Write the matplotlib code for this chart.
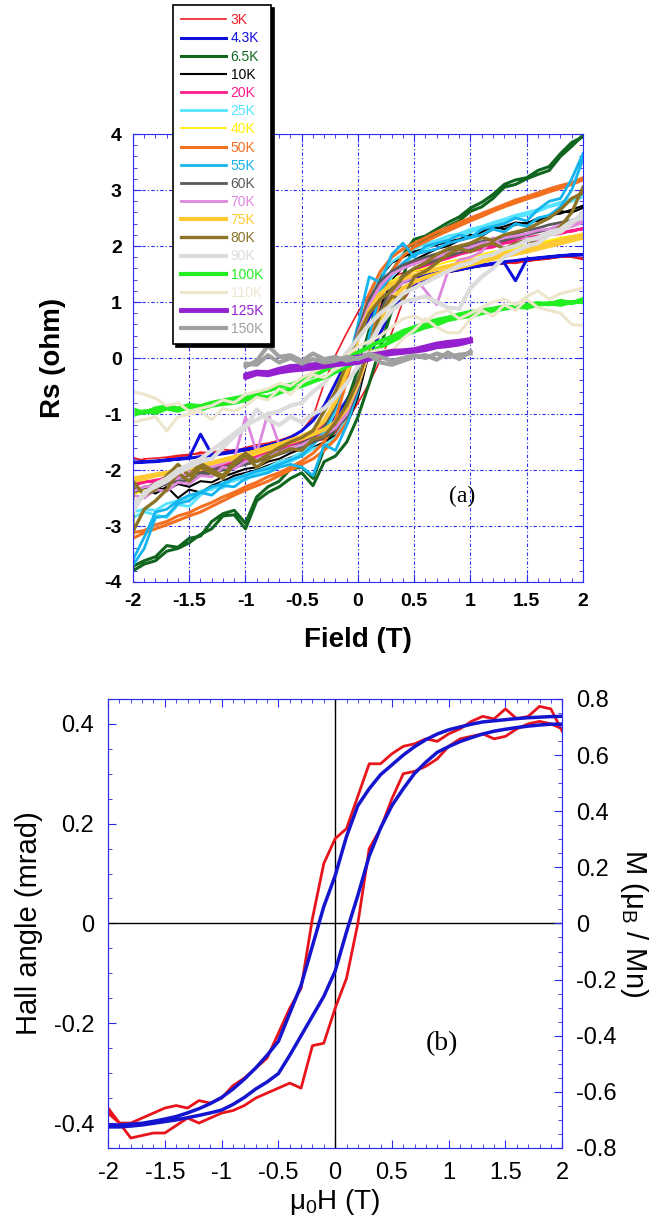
import matplotlib.pyplot as plt
from matplotlib.ticker import MultipleLocator

plt.rcParams['font.family'] = ['Liberation Sans', 'DejaVu Sans']
plt.rcParams['mathtext.fontset'] = 'custom'
plt.rcParams['mathtext.rm'] = 'Liberation Sans'
plt.rcParams['mathtext.default'] = 'regular'

# field grid (T) shared by the loops; 125K / 150K only swept +-1 T
field = [-2.0, -1.9, -1.8, -1.7, -1.6, -1.5, -1.4, -1.3, -1.2, -1.1, -1.0,
         -0.9, -0.8, -0.7, -0.6, -0.5, -0.4, -0.3, -0.2, -0.1, 0.0,
         0.1, 0.2, 0.3, 0.4, 0.5, 0.6, 0.7, 0.8, 0.9, 1.0,
         1.1, 1.2, 1.3, 1.4, 1.5, 1.6, 1.7, 1.8, 1.9, 2.0]
field_short = [-1.0, -0.9, -0.8, -0.7, -0.6, -0.5, -0.4, -0.3, -0.2, -0.1, 0.0,
               0.1, 0.2, 0.3, 0.4, 0.5, 0.6, 0.7, 0.8, 0.9, 1.0]

# (a) Rs loops: "down" = sweep from +2 to -2, "up" = sweep from -2 to +2 (both listed along field)
down_3k = [-1.78, -1.83, -1.86, -1.80, -1.76, -1.74, -1.68, -1.70, -1.63, -1.66, -1.60, -1.55, -1.52, -1.47, -1.40, -1.30, -1.05, -0.45, 0.05, 0.45, 0.82, 1.15, 1.35, 1.45, 1.52, 1.55, 1.58, 1.60, 1.62, 1.63, 1.65, 1.66, 1.69, 1.68, 1.72, 1.73, 1.76, 1.78, 1.80, 1.82, 1.78]
up_3k = [-1.88, -1.80, -1.79, -1.77, -1.74, -1.72, -1.71, -1.67, -1.68, -1.64, -1.66, -1.62, -1.61, -1.59, -1.57, -1.54, -1.50, -1.45, -1.33, -1.13, -0.80, -0.45, -0.03, 0.45, 1.02, 1.32, 1.41, 1.48, 1.53, 1.56, 1.61, 1.64, 1.66, 1.70, 1.69, 1.73, 1.75, 1.77, 1.81, 1.80, 1.76]
down_4k = [-1.86, -1.85, -1.84, -1.82, -1.81, -1.79, -1.76, -1.74, -1.71, -1.68, -1.64, -1.60, -1.56, -1.50, -1.42, -1.30, -1.12, -0.85, -0.45, -0.05, 0.35, 0.72, 1.02, 1.22, 1.35, 1.43, 1.48, 1.52, 1.55, 1.58, 1.62, 1.65, 1.68, 1.70, 1.38, 1.76, 1.78, 1.80, 1.82, 1.84, 1.85]
up_4k = [-1.87, -1.86, -1.85, -1.83, -1.80, -1.78, -1.36, -1.72, -1.70, -1.66, -1.63, -1.60, -1.56, -1.53, -1.49, -1.44, -1.37, -1.25, -1.05, -0.75, -0.38, 0.05, 0.45, 0.84, 1.10, 1.28, 1.40, 1.48, 1.54, 1.58, 1.62, 1.66, 1.69, 1.72, 1.74, 1.77, 1.79, 1.81, 1.83, 1.84, 1.84]
down_6k = [-3.72, -3.62, -3.55, -3.35, -3.38, -3.22, -3.18, -2.92, -2.78, -2.72, -2.95, -2.48, -2.30, -2.20, -1.98, -1.95, -2.15, -1.62, -1.25, -0.80, -0.20, 0.50, 1.10, 1.55, 1.85, 2.12, 2.18, 2.30, 2.42, 2.52, 2.68, 2.78, 2.92, 3.10, 3.18, 3.22, 3.35, 3.42, 3.65, 3.85, 3.95]
up_6k = [-3.80, -3.68, -3.62, -3.45, -3.40, -3.30, -3.15, -3.05, -2.82, -2.80, -3.05, -2.55, -2.40, -2.30, -2.15, -2.05, -2.28, -1.85, -1.75, -1.50, -1.05, -0.45, 0.20, 0.85, 1.45, 2.05, 2.10, 2.22, 2.35, 2.45, 2.62, 2.70, 2.85, 3.05, 3.10, 3.20, 3.28, 3.35, 3.60, 3.78, 3.98]
down_10k = [-2.32, -2.38, -2.30, -2.36, -2.25, -2.30, -2.20, -2.22, -2.12, -2.05, -1.98, -1.95, -1.85, -1.80, -1.70, -1.62, -1.50, -1.30, -0.95, -0.30, 0.50, 1.00, 1.45, 1.70, 1.80, 1.90, 1.96, 2.02, 2.08, 2.12, 2.20, 2.18, 2.30, 2.35, 2.42, 2.40, 2.50, 2.52, 2.62, 2.60, 2.68]
up_10k = [-2.40, -2.35, -2.42, -2.30, -2.50, -2.35, -2.40, -2.28, -2.20, -2.10, -2.05, -2.00, -1.92, -1.85, -1.78, -1.70, -1.60, -1.50, -1.38, -1.20, -0.70, 0.10, 0.90, 1.40, 1.62, 1.75, 1.85, 1.95, 2.00, 2.10, 2.15, 2.25, 2.35, 2.30, 2.38, 2.42, 2.45, 2.55, 2.58, 2.65, 2.72]
down_20k = [-2.28, -2.22, -2.18, -2.15, -2.10, -2.08, -2.02, -1.95, -1.92, -1.85, -1.82, -1.75, -1.68, -1.62, -1.55, -1.48, -1.35, -1.18, -0.85, -0.25, 0.45, 0.95, 1.30, 1.50, 1.62, 1.70, 1.75, 1.80, 1.85, 1.90, 1.95, 1.98, 2.03, 2.08, 2.10, 2.15, 2.18, 2.22, 2.25, 2.26, 2.32]
up_20k = [-2.25, -2.20, -2.22, -2.12, -2.15, -2.05, -2.00, -1.98, -1.90, -1.88, -1.80, -1.78, -1.70, -1.65, -1.58, -1.50, -1.42, -1.32, -1.18, -0.95, -0.50, 0.15, 0.80, 1.25, 1.45, 1.58, 1.65, 1.72, 1.78, 1.85, 1.90, 1.95, 1.98, 2.05, 2.08, 2.12, 2.15, 2.20, 2.22, 2.28, 2.30]
down_25k = [-2.75, -2.70, -2.72, -2.60, -2.55, -2.50, -2.38, -2.35, -2.22, -2.20, -2.08, -2.02, -1.95, -1.85, -1.80, -1.68, -1.55, -1.35, -0.95, -0.30, 0.45, 1.10, 1.50, 1.72, 1.85, 1.95, 2.05, 2.10, 2.18, 2.22, 2.30, 2.35, 2.42, 2.48, 2.55, 2.60, 2.65, 2.72, 2.78, 2.85, 2.92]
up_25k = [-2.85, -2.75, -2.80, -2.85, -2.62, -2.65, -2.45, -2.30, -2.32, -2.15, -2.18, -2.05, -2.02, -1.90, -1.85, -1.75, -1.62, -1.55, -1.42, -1.10, -0.45, 0.35, 1.05, 1.45, 1.65, 1.85, 1.95, 2.05, 2.12, 2.18, 2.25, 2.32, 2.38, 2.45, 2.52, 2.55, 2.62, 2.70, 2.75, 2.80, 2.88]
down_40k = [-2.20, -2.18, -2.10, -2.05, -2.00, -1.95, -1.90, -1.85, -1.80, -1.75, -1.70, -1.65, -1.58, -1.52, -1.46, -1.40, -1.30, -1.10, -0.75, -0.20, 0.40, 0.90, 1.20, 1.38, 1.48, 1.55, 1.60, 1.66, 1.72, 1.76, 1.80, 1.85, 1.90, 1.93, 1.98, 2.02, 2.06, 2.10, 2.15, 2.18, 2.15]
up_40k = [-2.45, -2.35, -2.30, -2.20, -2.15, -2.08, -2.00, -1.95, -1.88, -1.82, -1.78, -1.72, -1.65, -1.60, -1.52, -1.45, -1.38, -1.28, -1.15, -0.92, -0.45, 0.20, 0.80, 1.15, 1.35, 1.45, 1.52, 1.58, 1.64, 1.70, 1.75, 1.80, 1.85, 1.90, 1.95, 1.98, 2.03, 2.08, 2.12, 2.18, 2.22]
down_50k = [-3.12, -3.08, -2.98, -2.92, -2.82, -2.76, -2.66, -2.58, -2.48, -2.40, -2.30, -2.22, -2.12, -2.05, -1.95, -1.84, -1.70, -1.50, -1.10, -0.40, 0.45, 1.15, 1.55, 1.80, 1.95, 2.05, 2.15, 2.25, 2.33, 2.42, 2.50, 2.58, 2.66, 2.74, 2.82, 2.88, 2.95, 3.02, 3.08, 3.13, 3.22]
up_50k = [-3.22, -3.12, -3.05, -2.98, -2.90, -2.82, -2.75, -2.65, -2.55, -2.45, -2.36, -2.28, -2.20, -2.10, -2.00, -1.90, -1.80, -1.65, -1.45, -1.15, -0.55, 0.30, 1.05, 1.55, 1.82, 1.98, 2.08, 2.18, 2.27, 2.36, 2.45, 2.53, 2.62, 2.70, 2.77, 2.84, 2.90, 2.97, 3.03, 3.10, 3.18]
down_55k = [-3.60, -3.20, -2.75, -2.70, -2.55, -2.45, -2.40, -2.30, -2.25, -2.15, -2.10, -2.02, -1.98, -1.90, -1.82, -1.75, -1.55, -1.30, -0.90, -0.20, 0.60, 1.45, 1.35, 1.85, 2.05, 1.80, 2.00, 2.05, 2.10, 2.20, 2.15, 2.30, 2.35, 2.40, 2.50, 2.45, 2.65, 2.80, 2.85, 3.20, 3.65]
up_55k = [-3.70, -3.40, -2.85, -2.82, -2.60, -2.55, -2.40, -2.45, -2.28, -2.30, -2.15, -2.10, -2.05, -1.95, -1.90, -1.95, -2.10, -1.55, -1.65, -1.20, -0.60, 0.40, 1.20, 1.50, 1.70, 1.85, 1.90, 1.95, 2.05, 2.10, 2.15, 2.20, 2.30, 2.25, 2.40, 2.35, 2.50, 2.55, 2.70, 3.00, 3.55]
down_60k = [-2.35, -2.32, -2.25, -2.20, -2.15, -2.10, -2.05, -2.00, -1.95, -1.90, -1.85, -1.80, -1.72, -1.66, -1.60, -1.52, -1.42, -1.22, -0.85, -0.20, 0.50, 1.05, 1.38, 1.55, 1.66, 1.74, 1.80, 1.86, 1.92, 1.98, 2.02, 2.08, 2.12, 2.18, 2.22, 2.28, 2.32, 2.38, 2.42, 2.46, 2.52]
up_60k = [-2.40, -2.30, -2.32, -2.25, -2.20, -2.18, -2.10, -2.05, -2.00, -1.95, -1.90, -1.85, -1.78, -1.72, -1.65, -1.60, -1.50, -1.42, -1.28, -1.05, -0.55, 0.15, 0.85, 1.25, 1.48, 1.60, 1.68, 1.75, 1.82, 1.88, 1.94, 2.00, 2.05, 2.10, 2.15, 2.20, 2.25, 2.30, 2.35, 2.42, 2.48]
down_70k = [-2.38, -2.30, -2.28, -2.20, -2.15, -2.05, -1.85, -1.95, -1.88, -1.80, -1.05, -1.70, -0.98, -1.55, -1.48, -1.40, -1.30, -1.12, -0.78, -0.20, 0.45, 0.95, 1.30, 1.50, 1.60, 1.68, 1.75, 1.80, 1.88, 1.92, 1.98, 2.05, 2.08, 2.15, 2.18, 2.22, 2.28, 2.30, 2.38, 2.40, 2.45]
up_70k = [-2.45, -2.50, -2.35, -2.38, -2.22, -2.25, -2.10, -2.12, -1.95, -1.98, -1.85, -1.80, -1.72, -1.68, -1.60, -1.55, -1.45, -1.38, -1.25, -1.00, -0.50, 0.10, 0.75, 1.15, 1.35, 1.45, 1.20, 0.95, 1.55, 1.75, 1.80, 1.90, 2.15, 1.95, 2.05, 2.15, 2.10, 2.20, 2.30, 2.35, 2.42]
down_75k = [-2.20, -2.15, -2.10, -2.06, -2.02, -1.97, -1.92, -1.87, -1.82, -1.77, -1.72, -1.66, -1.60, -1.54, -1.47, -1.40, -1.30, -1.12, -0.78, -0.25, 0.35, 0.85, 1.15, 1.32, 1.42, 1.48, 1.54, 1.59, 1.64, 1.68, 1.73, 1.77, 1.82, 1.86, 1.90, 1.95, 2.00, 2.05, 2.10, 2.15, 2.20]
up_75k = [-2.15, -2.12, -2.08, -2.05, -2.00, -1.96, -1.92, -1.88, -1.83, -1.78, -1.74, -1.68, -1.62, -1.56, -1.50, -1.44, -1.36, -1.28, -1.15, -0.90, -0.45, 0.15, 0.70, 1.05, 1.25, 1.36, 1.44, 1.50, 1.56, 1.62, 1.67, 1.72, 1.77, 1.82, 1.86, 1.90, 1.95, 2.00, 2.05, 2.10, 2.15]
down_80k = [-2.20, -2.45, -2.35, -2.10, -1.90, -2.10, -1.88, -2.00, -2.10, -1.85, -1.70, -1.85, -1.72, -1.60, -1.50, -1.42, -1.30, -0.95, -0.60, -0.10, 0.40, 0.80, 1.05, 1.20, 1.45, 1.60, 1.70, 1.85, 1.95, 2.00, 2.05, 2.15, 2.10, 2.20, 2.25, 2.30, 2.40, 2.50, 2.65, 2.85, 2.95]
up_80k = [-3.10, -2.70, -2.55, -2.35, -2.05, -2.20, -1.95, -2.05, -2.15, -1.90, -1.75, -1.95, -1.80, -1.70, -1.62, -1.65, -1.45, -1.40, -1.15, -0.85, -0.40, 0.20, 0.80, 1.10, 1.05, 1.45, 1.55, 1.70, 1.85, 1.95, 1.90, 2.00, 2.05, 1.95, 2.05, 2.10, 2.05, 2.20, 2.35, 2.60, 3.05]
down_90k = [-2.60, -2.45, -2.25, -2.15, -2.00, -1.90, -1.80, -1.65, -1.50, -1.35, -1.20, -1.10, -1.00, -0.95, -0.85, -0.80, -0.60, -0.45, -0.20, 0.10, 0.35, 0.60, 0.80, 0.95, 1.15, 1.25, 1.35, 1.45, 1.55, 1.65, 1.70, 1.80, 1.85, 1.95, 2.00, 2.10, 2.15, 2.25, 2.30, 2.45, 2.50]
up_90k = [-2.75, -2.40, -2.30, -2.20, -2.05, -1.95, -1.85, -1.80, -1.60, -1.40, -1.25, -0.92, -1.10, -1.20, -1.05, -1.15, -1.00, -0.90, -0.70, -0.45, -0.15, 0.25, 0.60, 0.85, 1.00, 1.05, 1.10, 1.00, 0.90, 0.88, 1.25, 1.45, 1.60, 1.80, 1.90, 2.00, 2.05, 2.20, 2.25, 2.40, 2.60]
down_100k = [-0.92, -0.98, -0.90, -0.86, -0.90, -0.84, -0.86, -0.80, -0.76, -0.72, -0.68, -0.62, -0.58, -0.52, -0.48, -0.40, -0.32, -0.22, -0.12, 0.00, 0.10, 0.20, 0.30, 0.38, 0.48, 0.55, 0.62, 0.68, 0.72, 0.78, 0.82, 0.85, 0.88, 0.92, 0.90, 0.95, 0.98, 0.96, 1.02, 0.98, 1.05]
up_100k = [-1.02, -0.95, -0.98, -0.90, -0.94, -0.88, -0.92, -0.85, -0.82, -0.80, -0.75, -0.68, -0.70, -0.62, -0.55, -0.50, -0.42, -0.35, -0.25, -0.15, -0.05, 0.08, 0.20, 0.30, 0.40, 0.48, 0.55, 0.60, 0.68, 0.72, 0.75, 0.80, 0.85, 0.88, 0.92, 0.90, 0.95, 0.98, 0.95, 1.00, 1.00]
down_110k = [-0.60, -0.65, -0.72, -0.85, -0.80, -0.95, -0.90, -0.85, -0.75, -0.80, -0.65, -0.60, -0.55, -0.45, -0.50, -0.35, -0.25, -0.15, -0.05, 0.05, 0.20, 0.30, 0.40, 0.55, 0.70, 0.75, 0.65, 0.80, 0.85, 0.70, 0.80, 0.90, 1.00, 1.05, 0.95, 1.10, 1.20, 1.05, 1.15, 1.20, 1.25]
up_110k = [-1.15, -1.10, -1.05, -1.30, -1.05, -1.00, -0.95, -1.10, -0.90, -0.95, -0.85, -0.70, -0.75, -0.55, -0.65, -0.45, -0.30, -0.35, -0.20, -0.10, 0.00, 0.10, 0.15, 0.12, 0.35, 0.50, 0.70, 0.55, 0.45, 0.45, 0.70, 0.85, 0.75, 0.95, 0.85, 1.05, 0.90, 0.85, 0.80, 0.60, 0.58]
down_125k = [-0.30, -0.25, -0.26, -0.20, -0.15, -0.14, -0.12, -0.10, -0.08, -0.02, 0.02, 0.05, 0.08, 0.12, 0.13, 0.15, 0.20, 0.25, 0.28, 0.30, 0.33]
up_125k = [-0.35, -0.28, -0.30, -0.25, -0.22, -0.20, -0.18, -0.15, -0.12, -0.10, -0.08, -0.02, 0.05, 0.08, 0.10, 0.12, 0.15, 0.20, 0.22, 0.25, 0.30]
down_150k = [-0.10, -0.12, 0.05, -0.08, 0.00, -0.10, -0.02, -0.08, -0.05, 0.02, -0.02, 0.08, 0.02, -0.05, 0.00, 0.05, 0.00, 0.08, 0.02, 0.06, 0.08]
up_150k = [-0.15, -0.05, 0.22, 0.02, 0.05, -0.05, 0.08, -0.02, 0.02, -0.05, 0.00, 0.05, -0.08, -0.12, -0.05, 0.02, 0.05, -0.03, 0.10, -0.02, 0.12]

temps = ['3K', '4.3K', '6.5K', '10K', '20K', '25K', '40K', '50K', '55K',
         '60K', '70K', '75K', '80K', '90K', '100K', '110K', '125K', '150K']
colors = ['#ee1c24', '#1010dd', '#10661e', '#000000', '#ff1a8c', '#55e4ff',
          '#ffee00', '#f37021', '#14b4ee', '#5a5a5a', '#dd88dd', '#ffc933',
          '#8c7325', '#dcdcdc', '#22ee22', '#eee6cc', '#9420d0', '#a0a0a0']
widths = [1.2, 2.2, 2.2, 1.5, 2.0, 2.0, 1.3, 2.2, 2.0, 2.0, 2.0, 3.0, 2.4,
          3.0, 3.0, 2.2, 3.5, 3.0]
loops = [(field, down_3k, up_3k), (field, down_4k, up_4k), (field, down_6k, up_6k),
         (field, down_10k, up_10k), (field, down_20k, up_20k), (field, down_25k, up_25k),
         (field, down_40k, up_40k), (field, down_50k, up_50k), (field, down_55k, up_55k),
         (field, down_60k, up_60k), (field, down_70k, up_70k), (field, down_75k, up_75k),
         (field, down_80k, up_80k), (field, down_90k, up_90k), (field, down_100k, up_100k),
         (field, down_110k, up_110k), (field_short, down_125k, up_125k),
         (field_short, down_150k, up_150k)]

# (b) Hall angle (mrad, left axis) and magnetization (muB/Mn, right axis)
hall_down = [-0.38, -0.40, -0.40, -0.39, -0.38, -0.37, -0.365, -0.37, -0.355, -0.36, -0.35, -0.325, -0.31, -0.29, -0.27, -0.22, -0.17, -0.13, 0.01, 0.12, 0.17, 0.19, 0.255, 0.32, 0.32, 0.34, 0.355, 0.36, 0.37, 0.365, 0.38, 0.39, 0.405, 0.415, 0.41, 0.43, 0.41, 0.415, 0.435, 0.43, 0.385]
hall_up = [-0.37, -0.40, -0.43, -0.425, -0.42, -0.42, -0.405, -0.39, -0.40, -0.39, -0.38, -0.375, -0.365, -0.35, -0.34, -0.33, -0.32, -0.33, -0.245, -0.24, -0.17, -0.11, 0.00, 0.15, 0.19, 0.25, 0.30, 0.305, 0.315, 0.33, 0.355, 0.37, 0.375, 0.38, 0.37, 0.375, 0.39, 0.40, 0.405, 0.40, 0.39]
m_down = [-0.720, -0.718, -0.715, -0.712, -0.705, -0.697, -0.688, -0.675, -0.660, -0.642, -0.620, -0.590, -0.555, -0.515, -0.470, -0.420, -0.32, -0.22, -0.08, 0.06, 0.17, 0.31, 0.42, 0.48, 0.53, 0.565, 0.60, 0.63, 0.655, 0.675, 0.69, 0.70, 0.71, 0.718, 0.722, 0.726, 0.73, 0.733, 0.735, 0.737, 0.738]
m_up = [-0.725, -0.725, -0.722, -0.718, -0.712, -0.706, -0.700, -0.692, -0.684, -0.675, -0.665, -0.645, -0.620, -0.590, -0.565, -0.535, -0.47, -0.40, -0.33, -0.26, -0.17, -0.03, 0.10, 0.24, 0.34, 0.42, 0.48, 0.535, 0.575, 0.61, 0.63, 0.648, 0.662, 0.675, 0.685, 0.692, 0.698, 0.703, 0.707, 0.71, 0.71]

x_ticks = [-2, -1.5, -1, -0.5, 0, 0.5, 1, 1.5, 2]
x_labels = ['-2', '-1.5', '-1', '-0.5', '0', '0.5', '1', '1.5', '2']
rs_ticks = [-4, -3, -2, -1, 0, 1, 2, 3, 4]
rs_labels = ['-4', '-3', '-2', '-1', '0', '1', '2', '3', '4']
hall_ticks = [-0.4, -0.2, 0, 0.2, 0.4]
hall_labels = ['-0.4', '-0.2', '0', '0.2', '0.4']
m_ticks = [-0.8, -0.6, -0.4, -0.2, 0, 0.2, 0.4, 0.6, 0.8]
m_labels = ['-0.8', '-0.6', '-0.4', '-0.2', '0', '0.2', '0.4', '0.6', '0.8']

axis_blue = '#2a2af0'

fig = plt.figure(figsize=(6.63, 12.32), dpi=100)

# ---------------- panel (a) ----------------
ax = fig.add_axes([0.2006, 0.5276, 0.6787, 0.3636])
handles = []
for (fx, down, up), c, lw, t in zip(loops, colors, widths, temps):
    xs = list(fx[::-1]) + list(fx)
    ys = list(down[::-1]) + list(up)
    line, = ax.plot(xs, ys, color=c, lw=lw, label=t)
    handles.append(line)

ax.set_xlim(-2, 2)
ax.set_ylim(-4, 4)
ax.set_xticks(x_ticks, x_labels)
ax.set_yticks(rs_ticks, rs_labels)
ax.xaxis.set_minor_locator(MultipleLocator(0.1))
ax.yaxis.set_minor_locator(MultipleLocator(0.2))
ax.tick_params(which='both', direction='in', top=True, right=True, color=axis_blue,
               labelsize=14, pad=8)
ax.tick_params(which='major', length=6)
ax.tick_params(which='minor', length=3)
for lbl in ax.get_xticklabels() + ax.get_yticklabels():
    lbl.set_fontweight('bold')
for s in ax.spines.values():
    s.set_color(axis_blue)
ax.grid(True, which='major', color=axis_blue, linestyle=(0, (3, 2, 1, 2)), linewidth=0.8)
ax.set_xlabel('Field (T)', fontsize=20, fontweight='bold', labelpad=12)
ax.set_ylabel('Rs (ohm)', fontsize=20, fontweight='bold')
ax.yaxis.set_label_coords(-0.15, 0.5)
ax.text(0.93, -2.48, '(a)', fontsize=17, family='Liberation Serif', ha='center', va='center')

leg = ax.legend(handles=handles, loc='upper left', bbox_to_anchor=(173 / 663, 1 - 5 / 1232),
                bbox_transform=fig.transFigure, borderaxespad=0, fontsize=10,
                labelcolor='linecolor', handlelength=3.2, handletextpad=0.35,
                labelspacing=0.3, borderpad=0.6, fancybox=False, edgecolor='black',
                framealpha=1, shadow={'color': 'black', 'alpha': 1})
leg.get_frame().set_linewidth(1.2)

# ---------------- panel (b) ----------------
bx = fig.add_axes([0.163, 0.0682, 0.685, 0.3645])
bx.axhline(0, color='black', lw=1)
bx.axvline(0, color='black', lw=1)
bx.plot(field[::-1] + field, hall_down[::-1] + hall_up, color='#e8141c', lw=2)
bx.set_xlim(-2, 2)
bx.set_ylim(-0.45, 0.45)
bx.set_xticks(x_ticks, x_labels)
bx.set_yticks(hall_ticks, hall_labels)
bx.xaxis.set_minor_locator(MultipleLocator(0.1))
bx.yaxis.set_minor_locator(MultipleLocator(0.05))
bx.tick_params(which='both', direction='in', top=True, right=False, color=axis_blue,
               labelsize=17, pad=10)
bx.tick_params(which='major', length=6)
bx.tick_params(which='minor', length=3)
for s in bx.spines.values():
    s.set_color(axis_blue)
bx.set_xlabel('μ$_0$H (T)', fontsize=20, labelpad=2)
bx.set_ylabel('Hall angle (mrad)', fontsize=21, labelpad=8)
bx.text(0.94, -0.24, '(b)', fontsize=20, family='Liberation Serif', ha='center', va='center')

bx2 = bx.twinx()
bx2.plot(field[::-1] + field, m_down[::-1] + m_up, color='#1515d0', lw=2.5)
bx2.set_ylim(-0.8, 0.8)
bx2.set_yticks(m_ticks, m_labels)
bx2.yaxis.set_minor_locator(MultipleLocator(0.05))
bx2.tick_params(which='both', direction='in', color=axis_blue, labelsize=17, pad=10)
bx2.tick_params(which='major', length=6)
bx2.tick_params(which='minor', length=3)
for s in bx2.spines.values():
    s.set_color(axis_blue)
bx2.set_ylabel('M (μ$_B$ / Mn)', fontsize=21, rotation=-90, labelpad=24)

fig.savefig('out.png', dpi=100)
